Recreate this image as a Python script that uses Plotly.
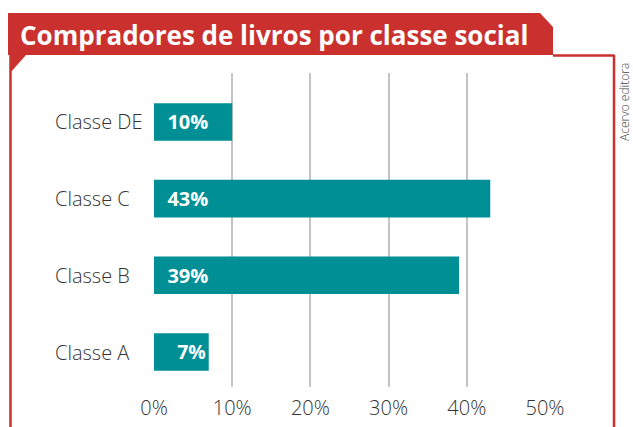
import plotly.graph_objects as go

# Data
categories = ["Classe A", "Classe B", "Classe C", "Classe DE"]
values = [7, 39, 43, 10]
x_ticks = [0, 10, 20, 30, 40, 50]
x_tick_labels = ["0%", "10%", "20%", "30%", "40%", "50%"]
title_text = "Compradores de livros por classe social"
credit_text = "Acervo editora"

W, H = 633, 427
RED = "#c9302e"
TEAL = "#008f95"
NBSP = "\u00a0"

# value labels, indented from the bar start (the short bar gets a deeper indent)
indent = {"Classe A": 4}
bar_labels = [NBSP * indent.get(c, 2) + f"{v}%" for c, v in zip(categories, values)]


def px(x):
    return x / W


def py(y):
    return 1 - y / H


fig = go.Figure()
fig.add_trace(go.Bar(
    y=categories,
    x=values,
    orientation="h",
    width=0.49,
    marker=dict(color=TEAL, line=dict(width=0)),
    text=bar_labels,
    textposition="inside",
    insidetextanchor="start",
    textfont=dict(family="Open Sans", size=20, color="white", weight=700),
    hoverinfo="skip",
))

shapes = []
# title banner with a clipped top-right corner
shapes.append(dict(
    type="path", xref="paper", yref="paper",
    path=(f"M {px(8)} {py(13)} L {px(540)} {py(13)} L {px(553)} {py(27)} "
          f"L {px(553)} {py(55)} L {px(8)} {py(55)} Z"),
    fillcolor=RED, line=dict(width=0), layer="below",
))
# frame around the plot
for x0, y0, x1, y1 in [(10.5, 55, 10.5, 427), (614, 55, 614, 427), (553, 55.5, 614.5, 55.5)]:
    shapes.append(dict(type="line", xref="paper", yref="paper",
                       x0=px(x0), y0=py(y0), x1=px(x1), y1=py(y1),
                       line=dict(color=RED, width=2.5)))
# small corner triangle
shapes.append(dict(
    type="path", xref="paper", yref="paper",
    path=f"M {px(10)} {py(55)} L {px(26)} {py(55)} L {px(10)} {py(73)} Z",
    fillcolor=RED, line=dict(width=0),
))

annotations = [
    dict(text=f"<b>{title_text}</b>", xref="paper", yref="paper",
         x=px(18), y=py(35), xanchor="left", yanchor="middle", showarrow=False,
         font=dict(family="Open Sans", size=26, color="white", weight=700)),
    dict(text=credit_text, xref="paper", yref="paper", textangle=-90,
         x=px(624), y=py(102), xanchor="center", yanchor="middle", showarrow=False,
         borderpad=0,
         font=dict(family="Open Sans", size=12, color="#444444", weight=300)),
]
for c in categories:
    annotations.append(dict(text=c, xref="paper", yref="y", x=px(53), y=c,
                            xanchor="left", yanchor="middle", showarrow=False,
                            font=dict(family="Open Sans", size=20, color="#333333", weight=300)))

fig.update_layout(
    width=W, height=H,
    margin=dict(l=0, r=0, t=0, b=0, autoexpand=False),
    paper_bgcolor="white", plot_bgcolor="white",
    showlegend=False,
    shapes=shapes,
    annotations=annotations,
    xaxis=dict(
        domain=[px(154), px(545)], range=[0, 50],
        tickvals=x_ticks, ticktext=x_tick_labels,
        showgrid=True, gridcolor="#c4c4c4", gridwidth=1.5,
        zeroline=False, showline=False, ticks="",
        tickfont=dict(family="Open Sans", size=20, color="#333333", weight=300),
        ticklabelstandoff=7,
        automargin=False,
        fixedrange=True,
    ),
    yaxis=dict(
        domain=[py(387), py(73)], range=[-0.456, 3.638],
        categoryorder="array", categoryarray=categories,
        showticklabels=False, showgrid=False, zeroline=False, ticks="",
        automargin=False,
        fixedrange=True,
    ),
)

fig.write_html("out.html")
